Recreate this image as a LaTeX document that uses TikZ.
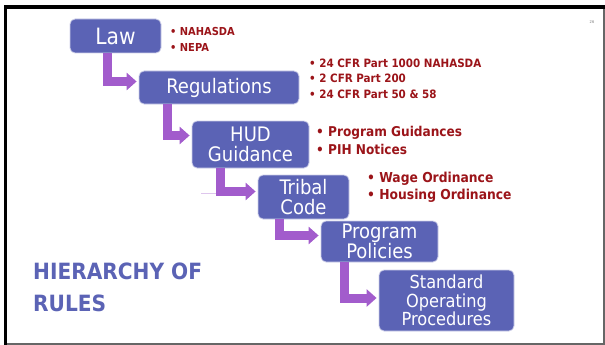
\documentclass[tikz,border=0pt]{standalone}
\usepackage{fontspec}
\setmainfont{DejaVu Sans Condensed}
\usetikzlibrary{arrows.meta}

\definecolor{boxblue}{RGB}{91,99,181}
\definecolor{steppurple}{RGB}{162,92,204}
\definecolor{notered}{RGB}{155,20,25}

\tikzset{
  rulebox/.style={rectangle, rounded corners=5pt, fill=boxblue, draw=white!70!boxblue,
    line width=0.8pt, text=white, align=center, inner sep=0pt},
  stepdown/.style={draw=steppurple, line width=9pt, line join=miter,
    -{Triangle[length=10pt,width=17pt]}, shorten >=2pt},
  note/.style={anchor=base west, inner sep=0pt, text=notered},
}

\begin{document}
\begin{tikzpicture}[x=1pt, y=-1pt]
    \useasboundingbox (0,0) rectangle (605,345);

    % slide frame
    \draw[line width=3.5pt] (5.5,345) -- (5.5,7) -- (605,7);
    \draw[black!60, line width=2pt] (604,9) -- (604,344) -- (7,344);
    \node[inner sep=0pt, text=black!50, font=\fontsize{4}{4}\selectfont] (pagenum) at (592,22) {26};

    % levels
    \node[rulebox, minimum width=91pt, minimum height=34pt, font=\fontsize{22.5}{24}\selectfont] (law) at (115.5,36) {Law};
    \node[rulebox, minimum width=160pt, minimum height=33pt, font=\fontsize{20}{21}\selectfont] (reg) at (219,87.5) {Regulations};
    \node[rulebox, minimum width=117pt, minimum height=47pt, font=\fontsize{20}{20}\selectfont] (hud) at (250.5,144.5) {HUD\\Guidance};
    \node[rulebox, minimum width=91pt, minimum height=44pt, font=\fontsize{20}{20}\selectfont] (tribal) at (303.5,197) {Tribal\\Code};
    \node[rulebox, minimum width=117pt, minimum height=41pt, font=\fontsize{20}{20}\selectfont] (prog) at (379.5,241.5) {Program\\Policies};
    \node[rulebox, minimum width=135pt, minimum height=61pt, font=\fontsize{18}{18.5}\selectfont] (sop) at (446.5,300.5) {Standard\\Operating\\Procedures};

    % bent arrows
    \draw[steppurple!35, line width=1pt] (201,193) -- (216,193);
    \draw[stepdown] ([xshift=37.5pt]law.south west) |- ([yshift=6pt]reg.west);
    \draw[stepdown] ([xshift=28.5pt]reg.south west) |- ([yshift=9pt]hud.west);
    \draw[stepdown] ([xshift=28.5pt]hud.south west) |- ([yshift=5.5pt]tribal.west);
    \draw[stepdown] ([xshift=22pt]tribal.south west) |- ([yshift=6pt]prog.west);
    \draw[stepdown] ([xshift=24pt]prog.south west) |- ([yshift=2.5pt]sop.west);

    % notes
    \foreach \txt [count=\i from 0] in {NAHASDA, NEPA}
        \node[note, font=\bfseries\fontsize{11}{13}\selectfont] (lawnote\i) at (170,36+16*\i) {\textbullet\ \txt};
    \foreach \txt [count=\i from 0] in {24 CFR Part 1000 NAHASDA, 2 CFR Part 200, 24 CFR Part 50 \& 58}
        \node[note, font=\bfseries\fontsize{11.5}{14}\selectfont] (regnote\i) at (309,67+15.5*\i) {\textbullet\ \txt};
    \foreach \txt [count=\i from 0] in {Program Guidances, PIH Notices}
        \node[note, font=\bfseries\fontsize{13.5}{16}\selectfont] (hudnote\i) at (316,136+18*\i) {\textbullet\ \txt};
    \foreach \txt [count=\i from 0] in {Wage Ordinance, Housing Ordinance}
        \node[note, font=\bfseries\fontsize{13.7}{16}\selectfont] (tribalnote\i) at (367,182+17*\i) {\textbullet\ \txt};

    % title
    \node[anchor=north west, inner sep=0pt, align=left, text=boxblue,
          font=\bfseries\fontsize{22.4}{32}\selectfont] (title) at (33,263) {HIERARCHY OF\\RULES};
\end{tikzpicture}
\end{document}
